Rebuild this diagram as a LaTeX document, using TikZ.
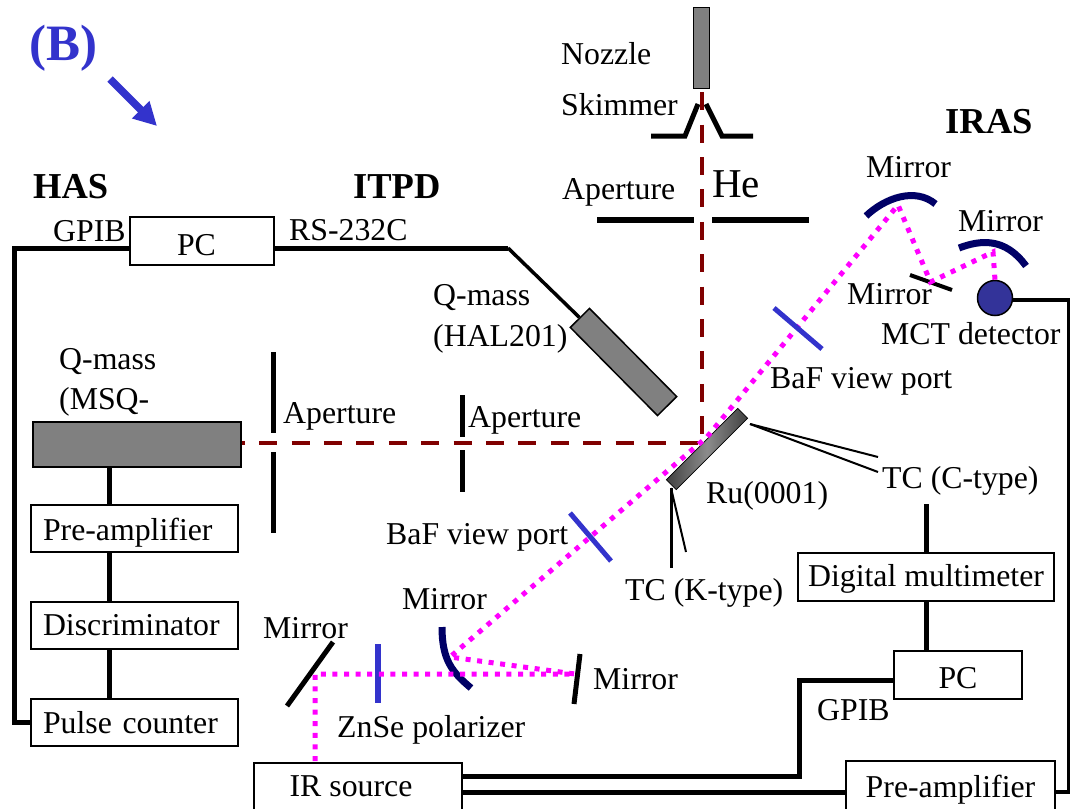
\documentclass[tikz,border=0pt]{standalone}
\usepackage{fontspec}
\setmainfont{Liberation Serif}
\usetikzlibrary{arrows.meta}

\definecolor{beamred}{HTML}{800000}
\definecolor{irpink}{HTML}{FF00FF}
\definecolor{platblue}{HTML}{3333CC}
\definecolor{mirrorblue}{HTML}{000066}
\definecolor{blockgray}{HTML}{808080}
\definecolor{detblue}{HTML}{333399}

\tikzset{
  lbl/.style={anchor=base west, inner sep=0pt},
  boxnode/.style={draw=black, line width=1.8pt, fill=white, inner sep=0pt, text height=20pt, text depth=0pt},
  leftbox/.style={boxnode, minimum height=47pt, text width=183pt, inner xsep=12pt, align=left},
  block/.style={draw=black, line width=1.5pt, fill=blockgray, inner sep=0pt},
  wire/.style={line width=5pt, black},
  thinwire/.style={line width=2pt, black},
  slit/.style={line width=5pt, black},
  hebeam/.style={line width=4pt, beamred, dash pattern=on 18pt off 14.4pt},
  irbeam/.style={line width=5pt, irpink, dash pattern=on 5pt off 6.6pt},
  plate/.style={line width=5pt, platblue},
  curved/.style={line width=7pt, mirrorblue}
}

\begin{document}
\begin{tikzpicture}[x=1pt, y=-1pt, every node/.style={font=\fontsize{31.8}{36}\selectfont}]
  \useasboundingbox (0,0) rectangle (1070,808);

  % -- Panel mark --
  \node[lbl, font=\fontsize{51}{54}\selectfont\bfseries, text=platblue] (panel) at (29,60) {(B)};
  \coordinate (markfrom) at (110,79);
  \coordinate (markto) at (157,126);
  \draw[line width=7.5pt, platblue, -{Triangle[length=23pt, width=23pt]}] (markfrom) -- (markto);

  % -- Titles --
  \node[lbl, font=\fontsize{36.5}{40}\selectfont\bfseries] (hastitle) at (33,198) {HAS};
  \node[lbl, font=\fontsize{36.5}{40}\selectfont\bfseries] (itpdtitle) at (353,198) {ITPD};
  \node[lbl, font=\fontsize{36.5}{40}\selectfont\bfseries] (irastitle) at (945,133) {IRAS};

  % -- Source --
  \node[block, minimum width=16pt, minimum height=81pt] (nozzle) at (701.5,48) {};
  \coordinate (skimA) at (651,136);
  \coordinate (skimB) at (685,136);
  \coordinate (skimC) at (698,104);
  \coordinate (skimD) at (706,104);
  \coordinate (skimE) at (722,136);
  \coordinate (skimF) at (753,136);
  \draw[slit] (skimA) -- (skimB) -- (skimC);
  \draw[slit] (skimD) -- (skimE) -- (skimF);
  \coordinate (apA) at (597,220);
  \coordinate (apB) at (694,220);
  \coordinate (apC) at (712,220);
  \coordinate (apD) at (809,220);
  \draw[slit, line width=6pt] (apA) -- (apB);
  \draw[slit, line width=6pt] (apC) -- (apD);

  \node[lbl] (nozzlelbl) at (561,65) {Nozzle};
  \node[lbl] (skimlbl) at (561,115) {Skimmer};
  \node[lbl] (aperlbl) at (562,199) {Aperture};
  \node[lbl, font=\fontsize{41}{45}\selectfont] (helbl) at (712,197) {He};

  % -- HAS chain --
  \node[boxnode, minimum width=144pt, minimum height=48pt, text height=28pt] (pcA) at (202,241) {PC\hspace*{11pt}};
  \node[lbl] (gpibA) at (53,241) {GPIB};
  \node[lbl] (rslbl) at (289,240) {RS-232C};
  \node[block, minimum width=208pt, minimum height=45pt] (qmsq) at (137,444.5) {};
  \node[lbl] (qmsqA) at (59,369) {Q-mass};
  \node[lbl] (qmsqB) at (59,409) {(MSQ-};
  \node[leftbox, text height=24pt] (preampA) at (134.5,528.5) {Pre-amplifier};
  \node[leftbox] (discr) at (134.5,625.5) {Discriminator};
  \node[leftbox, text height=22pt] (pulse) at (134.5,722.5) {Pulse counter};
  \coordinate (trunk) at (109,444);
  \draw[wire] (trunk |- qmsq.south) -- (trunk |- preampA.north);
  \draw[wire] (trunk |- preampA.south) -- (trunk |- discr.north);
  \draw[wire] (trunk |- discr.south) -- (trunk |- pulse.north);
  \coordinate (railA) at (14.5,248);
  \coordinate (pcrun) at (202,248);
  \draw[wire] (pcrun -| pcA.west) -- (railA) -- (railA |- pulse.west) -- (pulse.west);

  % -- Apertures --
  \coordinate (slitA) at (273,352);
  \coordinate (slitB) at (273,433);
  \coordinate (slitC) at (273,452);
  \coordinate (slitD) at (273,533);
  \coordinate (slitE) at (462,395);
  \coordinate (slitF) at (462,437);
  \coordinate (slitG) at (462,450);
  \coordinate (slitH) at (462,492);
  \draw[slit] (slitA) -- (slitB);
  \draw[slit] (slitC) -- (slitD);
  \draw[slit] (slitE) -- (slitF);
  \draw[slit] (slitG) -- (slitH);
  \node[lbl] (aperB) at (283,423) {Aperture};
  \node[lbl] (aperC) at (468,427) {Aperture};

  % -- ITPD mass --
  \node[block, rotate=-45.3, minimum width=124pt, minimum height=27pt] (qhal) at (623.5,362) {};
  \node[lbl] (qhalA) at (433,305) {Q-mass};
  \node[lbl] (qhalB) at (433,346) {(HAL201)};
  \coordinate (bend) at (508,248);
  \draw[wire] (pcrun -| pcA.east) -- (bend);
  \draw[line width=3.5pt] (bend) -- (qhal.west);

  % -- He beam --
  \coordinate (hit) at (702,443);
  \draw[hebeam, dash phase=29.4] (nozzle.south -| hit) -- (hit);
  \draw[hebeam, dash phase=15] (qmsq.east |- hit) -- (hit);

  % -- Sample --
  \node[draw=black, line width=.6pt, rotate=45, inner sep=0pt, minimum width=101pt, minimum height=14pt,
        left color=black!75, right color=black!75, middle color=black!45] (ruhold) at (707,449) {};
  \node[lbl] (rulbl) at (706,503) {Ru(0001)};
  \node[lbl] (tcc) at (882,488) {TC (C-type)};
  \node[lbl] (tck) at (625,600) {TC (K-type)};
  \coordinate (tccfrom) at (750,424);
  \coordinate (tcctoA) at (878,457);
  \coordinate (tcctoB) at (878,472);
  \draw[thinwire] (tccfrom) -- (tcctoA);
  \draw[thinwire] (tccfrom) -- (tcctoB);
  \coordinate (tckfrom) at (671,488);
  \coordinate (tcktoA) at (671,568);
  \coordinate (tcktoB) at (686,552);
  \draw[line width=3pt] (tckfrom) -- (tcktoA);
  \draw[thinwire] (tckfrom) -- (tcktoB);

  % -- Readout --
  \node[boxnode, minimum width=256pt, minimum height=48pt, text height=18pt] (dmm) at (926,577) {Digital multimeter};
  \node[boxnode, minimum width=128pt, minimum height=48pt, text height=26pt] (pcB) at (958,675) {PC};
  \node[lbl] (gpibB) at (817,720) {GPIB};
  \node[boxnode, minimum width=208pt, minimum height=56pt, text height=10pt] (irsrc) at (358,791) {IR source\hspace*{14pt}};
  \node[boxnode, minimum width=209pt, minimum height=56pt, text height=16pt] (preampB) at (950.5,789) {Pre-amplifier};
  \coordinate (tcdrop) at (926,504);
  \draw[wire] (tcdrop) -- (dmm.north);
  \draw[wire] (dmm.south) -- (dmm.south |- pcB.north);
  \coordinate (railB) at (799,680);
  \coordinate (pcport) at (894,680);
  \coordinate (srcupper) at (462,776);
  \coordinate (srclower) at (462,792);
  \draw[wire] (pcport) -- (railB) -- (railB |- srcupper) -- (srcupper);
  \draw[wire] (srclower) -- (srclower -| preampB.west);
  \node[draw=black, line width=1.5pt, fill=detblue, circle, inner sep=0pt, minimum size=35pt] (mct) at (995,298) {};
  \coordinate (railC) at (1069,300);
  \coordinate (ampport) at (1055,792);
  \draw[line width=4.5pt] (mct.east |- railC) -- (railC) -- (railC |- ampport) -- (ampport);

  % -- Mirrors --
  \draw[curved] (866,216) .. controls (885,198) and (915,187) .. (935.5,204);
  \draw[curved] (959,248) .. controls (980,240) and (1005,237) .. (1026,266);
  \draw[curved] (442,627) .. controls (442,660) and (452,672) .. (471,688);
  \coordinate (flatA) at (910,275);
  \coordinate (flatB) at (952,290);
  \coordinate (flatC) at (333,642);
  \coordinate (flatD) at (287,706);
  \coordinate (flatE) at (580,654);
  \coordinate (flatF) at (574,704);
  \draw[line width=4pt] (flatA) -- (flatB);
  \draw[slit] (flatC) -- (flatD);
  \draw[slit] (flatE) -- (flatF);
  \coordinate (polA) at (378,644);
  \coordinate (polB) at (378,703);
  \draw[plate, line width=6pt] (polA) -- (polB);

  % -- IR beam --
  \coordinate (irA) at (315,761);
  \coordinate (irB) at (315,674);
  \coordinate (irC) at (575,674);
  \coordinate (irD) at (450,657);
  \coordinate (irE) at (707,437);
  \coordinate (irF) at (898,205);
  \coordinate (irG) at (930.5,282);
  \coordinate (irH) at (993,252);
  \coordinate (irI) at (995,280);
  \draw[irbeam] (irA) -- (irB) -- (irC) -- (irD) -- (irE) -- (irF) -- (irG) -- (irH) -- (irI);

  % -- View ports --
  \coordinate (portA) at (774,308);
  \coordinate (portB) at (822,349);
  \coordinate (portC) at (570,513);
  \coordinate (portD) at (611,561);
  \draw[plate] (portA) -- (portB);
  \draw[plate] (portC) -- (portD);

  % -- Optics labels --
  \node[lbl] (mirrA) at (866,177) {Mirror};
  \node[lbl] (mirrB) at (958,231) {Mirror};
  \node[lbl] (mirrC) at (847,304) {Mirror};
  \node[lbl] (mctlbl) at (881,344) {MCT detector};
  \node[lbl] (bafA) at (770,388) {BaF view port};
  \node[lbl] (bafB) at (386,544) {BaF view port};
  \node[lbl] (mirrD) at (402,609) {Mirror};
  \node[lbl] (mirrE) at (263,638) {Mirror};
  \node[lbl] (mirrF) at (593,689) {Mirror};
  \node[lbl] (znse) at (337,737) {ZnSe polarizer};

\end{tikzpicture}
\end{document}
